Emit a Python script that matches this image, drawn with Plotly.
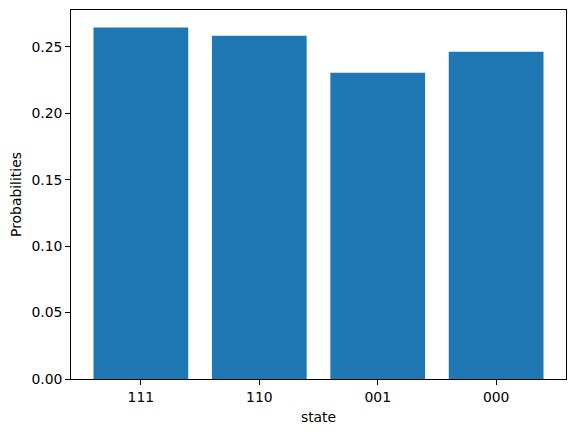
import plotly.graph_objects as go

states = ["111", "110", "001", "000"]
probabilities = [0.2646, 0.2585, 0.2305, 0.2464]
y_ticks = [0.00, 0.05, 0.10, 0.15, 0.20, 0.25]

FONT = "DejaVu Sans"
BLUE = "#1f77b4"
SIZE = 13.9

fig = go.Figure()
fig.add_bar(
    x=states, y=probabilities, width=0.8,
    marker=dict(color=BLUE, line=dict(width=0)),
)

top = max(probabilities) * 1.05
fig.update_layout(
    width=576, height=432,
    margin=dict(l=70.5, r=10, t=9.5, b=53),
    paper_bgcolor="white", plot_bgcolor="white",
    font=dict(family=FONT, size=SIZE, color="black"),
    showlegend=False,
    xaxis=dict(
        type="category", range=[-0.59, len(states) - 1 + 0.59],
        showline=True, linecolor="black", linewidth=1, mirror=True,
        ticks="outside", ticklen=4.9, tickcolor="black", showgrid=False,
        tickfont=dict(size=SIZE),
        title=dict(text="state", standoff=8, font=dict(size=SIZE)),
    ),
    yaxis=dict(
        range=[0, top], tickvals=y_ticks, tickformat=".2f",
        showline=True, linecolor="black", linewidth=1, mirror=True,
        ticks="outside", ticklen=4.9, tickcolor="black", showgrid=False,
        zeroline=False, tickfont=dict(size=SIZE),
        title=dict(text="Probabilities", standoff=6, font=dict(size=SIZE)),
    ),
)

# die Seite hat sonst 8px Body-Rand
fig.write_html(
    "out.html",
    config={"displayModeBar": False},
    post_script="document.body.style.margin='0';",
)
